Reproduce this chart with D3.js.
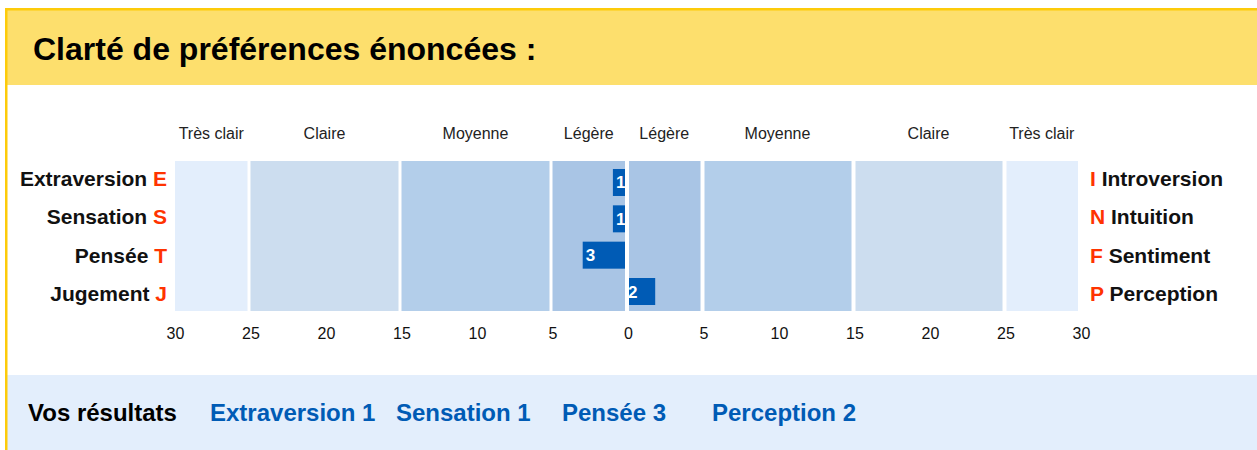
<!DOCTYPE html>
<html>
<head>
<meta charset="utf-8">
<script src="https://cdn.jsdelivr.net/npm/d3@7"></script>
<style>
  body { margin: 0; background: #fff; font-family: "Liberation Sans", Arial, sans-serif; }
  svg { display: block; }
</style>
</head>
<body>
<div id="chart"></div>
<script>
// data
var leftNames = ["Extraversion", "Sensation", "Pensée", "Jugement"];
var leftLetters = ["E", "S", "T", "J"];
var rightNames = ["Introversion", "Intuition", "Sentiment", "Perception"];
var rightLetters = ["I", "N", "F", "P"];
// negative = left pole, positive = right pole
var scores = [-1, -1, -3, 2];
var bandEdges = [-30, -25, -15, -5, 0, 5, 15, 25, 30];
var bandLabels = ["Très clair", "Claire", "Moyenne", "Légère", "Légère", "Moyenne", "Claire", "Très clair"];
var bandColors = ["#e3eefc", "#ccddef", "#b3ceea", "#a9c5e5", "#a9c5e5", "#b3ceea", "#ccddef", "#e3eefc"];
var tickValues = [-30, -25, -20, -15, -10, -5, 0, 5, 10, 15, 20, 25, 30];

var svgWidth = 1257;
var svgHeight = 450;

var svg = d3.select("#chart")
  .append("svg")
  .attr("width", svgWidth)
  .attr("height", svgHeight);

// frame: header band, results band, yellow borders
svg.append("rect")
  .attr("x", 5).attr("y", 8)
  .attr("width", svgWidth).attr("height", 77)
  .attr("fill", "#fddf6d");
svg.append("rect")
  .attr("x", 5).attr("y", 375)
  .attr("width", svgWidth).attr("height", 75)
  .attr("fill", "#e3eefc");
svg.append("rect")
  .attr("x", 5).attr("y", 8)
  .attr("width", svgWidth).attr("height", 2.5)
  .attr("fill", "#fdcb0a");
svg.append("rect")
  .attr("x", 5).attr("y", 8)
  .attr("width", 2.5).attr("height", svgHeight)
  .attr("fill", "#fdcb0a");

svg.append("text")
  .attr("x", 33).attr("y", 60)
  .attr("font-size", 32)
  .attr("font-weight", "bold")
  .attr("fill", "#000")
  .text("Clarté de préférences énoncées :");

// scales
var x = d3.scaleLinear().domain([-30, 30]).range([175, 1081]);
var y = d3.scaleBand().domain(d3.range(leftNames.length))
  .range([165, 309]).paddingInner(0.257).paddingOuter(0.11);
// pole labels sit on their own baselines
var yLab = d3.scalePoint().domain(d3.range(leftNames.length)).range([186, 301]);
var gap = 3;

var chart = svg.append("g");

var bands = d3.range(bandLabels.length).map(function(i) {
  return { a: bandEdges[i], b: bandEdges[i + 1], label: bandLabels[i], color: bandColors[i] };
});

chart.selectAll("rect.band")
  .data(bands)
  .enter()
  .append("rect")
  .attr("class", "band")
  .attr("x", d => x(d.a) + (d.a >= 0 ? 1 : 0))
  .attr("y", 161)
  .attr("width", d => x(d.b) - x(d.a) - gap - (d.a >= 0 ? 1 : 0))
  .attr("height", 150)
  .attr("fill", d => d.color);

chart.selectAll("text.bandLabel")
  .data(bands)
  .enter()
  .append("text")
  .attr("class", "bandLabel")
  .attr("x", d => (x(d.a) + x(d.b) - gap) / 2)
  .attr("y", 139)
  .attr("text-anchor", "middle")
  .attr("font-size", 16)
  .attr("fill", "#222")
  .text(d => d.label);

// axis
var axis = d3.axisBottom(x)
  .tickValues(tickValues)
  .tickFormat(d => Math.abs(d))
  .tickSize(0)
  .tickPadding(0);

var axisG = chart.append("g")
  .attr("transform", "translate(0, 339)")
  .call(axis);
axisG.select(".domain").remove();
axisG.selectAll("text")
  .attr("font-size", 16)
  .attr("font-family", "Liberation Sans, Arial, sans-serif")
  .attr("fill", "#111")
  .attr("y", 0)
  .attr("dy", 0);

// bars
var rows = scores.map(function(v, i) { return { v: v, i: i }; });

chart.selectAll("rect.bar")
  .data(rows)
  .enter()
  .append("rect")
  .attr("class", "bar")
  .attr("x", d => d.v < 0 ? x(d.v) : x(0) + 1)
  .attr("y", d => y(d.i))
  .attr("width", d => d.v < 0 ? x(0) - x(d.v) - gap : x(d.v) - x(0) - gap - 1)
  .attr("height", y.bandwidth())
  .attr("fill", "#005bb5");

chart.selectAll("text.barLabel")
  .data(rows)
  .enter()
  .append("text")
  .attr("class", "barLabel")
  .attr("x", d => d.v < 0 ? x(d.v) + 3 : x(0))
  .attr("y", d => y(d.i) + y.bandwidth() / 2 + 6)
  .attr("font-size", 17)
  .attr("font-weight", "bold")
  .attr("fill", "#fff")
  .text(d => Math.abs(d.v));

// pole labels
var leftLab = chart.selectAll("text.leftLab")
  .data(leftNames)
  .enter()
  .append("text")
  .attr("class", "leftLab")
  .attr("x", 167)
  .attr("y", (d, i) => yLab(i))
  .attr("text-anchor", "end")
  .attr("font-size", 21)
  .attr("font-weight", "bold")
  .attr("fill", "#111");
leftLab.append("tspan").text(d => d + " ");
leftLab.append("tspan").attr("fill", "#ff3300").text((d, i) => leftLetters[i]);

var rightLab = chart.selectAll("text.rightLab")
  .data(rightNames)
  .enter()
  .append("text")
  .attr("class", "rightLab")
  .attr("x", 1090)
  .attr("y", (d, i) => yLab(i))
  .attr("font-size", 21)
  .attr("font-weight", "bold")
  .attr("fill", "#111");
rightLab.append("tspan").attr("fill", "#ff3300").text((d, i) => rightLetters[i]);
rightLab.append("tspan").text(d => " " + d);

// results line
svg.append("text")
  .attr("x", 28).attr("y", 421)
  .attr("font-size", 24)
  .attr("font-weight", "bold")
  .attr("fill", "#000")
  .text("Vos résultats");

var resultX = [210, 396, 562, 712];
svg.selectAll("text.result")
  .data(rows)
  .enter()
  .append("text")
  .attr("class", "result")
  .attr("x", (d, i) => resultX[i])
  .attr("y", 421)
  .attr("font-size", 24)
  .attr("font-weight", "bold")
  .attr("fill", "#005bb5")
  .text(d => (d.v < 0 ? leftNames[d.i] : rightNames[d.i]) + " " + Math.abs(d.v));
</script>
</body>
</html>
